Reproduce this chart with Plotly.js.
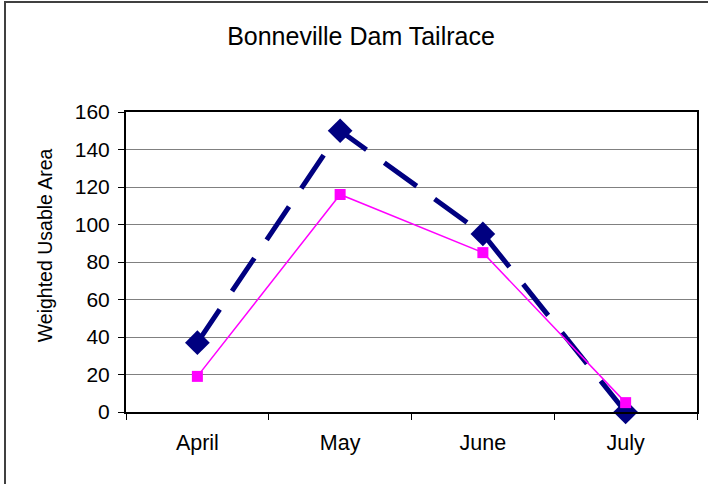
<!DOCTYPE html>
<html>
<head>
<meta charset="utf-8">
<script src="https://cdn.plot.ly/plotly-3.0.1.min.js"></script>
<style>
  html, body { margin: 0; padding: 0; background: #fff; overflow: hidden; }
  #wrap { position: relative; width: 708px; height: 484px; }
  #chart { width: 708px; height: 484px; }
  #frame { position: absolute; left: 4px; top: 1px; width: 760px; height: 560px;
           border-left: 2px solid #404040; border-top: 2px solid #404040; pointer-events: none; }
</style>
</head>
<body>
<div id="wrap">
  <div id="chart"></div>
  <div id="frame"></div>
</div>
<script>
// Data
const months = ['April', 'May', 'June', 'July'];
const navySeries = [37, 150, 95, 0];
const magentaSeries = [19, 116, 85, 5];
const yTickValues = [0, 20, 40, 60, 80, 100, 120, 140, 160];

const FONT = 'Liberation Sans, Arial, sans-serif';

const traces = [
  {
    x: months, y: navySeries, type: 'scatter', mode: 'lines+markers',
    line: { color: '#000080', width: 5, dash: '40px,22px' },
    marker: { symbol: 'diamond', size: 19, color: '#000080' },
    cliponaxis: false, hoverinfo: 'skip'
  },
  {
    x: months, y: magentaSeries, type: 'scatter', mode: 'lines+markers',
    line: { color: '#FF00FF', width: 1.5 },
    marker: { symbol: 'square', size: 11, color: '#FF00FF' },
    cliponaxis: false, hoverinfo: 'skip'
  }
];

const layout = {
  width: 708, height: 484,
  margin: { l: 126, r: 11, t: 112, b: 72, pad: 0 },
  paper_bgcolor: '#ffffff', plot_bgcolor: '#ffffff',
  showlegend: false,
  font: { family: FONT, color: '#000', size: 21 },
  title: {
    text: 'Bonneville Dam Tailrace',
    font: { family: FONT, size: 25, color: '#000' },
    x: 361 / 708, xanchor: 'center', xref: 'container',
    y: 1 - 36 / 484, yanchor: 'middle', yref: 'container'
  },
  xaxis: {
    type: 'category', range: [-0.5, 3.5],
    showgrid: false, zeroline: false,
    showline: true, linecolor: '#000', linewidth: 2, mirror: true,
    ticks: 'outside', tickson: 'boundaries', ticklen: 6, tickcolor: '#000', tickwidth: 1,
    tickfont: { family: FONT, size: 21.5, color: '#000' },
    ticklabelstandoff: 10
  },
  yaxis: {
    range: [0, 160], tickvals: yTickValues,
    showgrid: true, gridcolor: '#808080', gridwidth: 1,
    zeroline: false,
    showline: true, linecolor: '#000', linewidth: 2, mirror: true,
    ticks: 'outside', ticklen: 6, tickcolor: '#000', tickwidth: 1,
    tickfont: { family: FONT, size: 21, color: '#000' },
    ticklabelstandoff: 4
  },
  annotations: [
    {
      text: 'Weighted Usable Area', textangle: -90,
      xref: 'paper', yref: 'paper',
      x: -0.142, y: (411.7 - 245) / 300, xanchor: 'center', yanchor: 'middle',
      showarrow: false, font: { family: FONT, size: 19.5, color: '#000' }
    }
  ]
};

Plotly.newPlot('chart', traces, layout, { displayModeBar: false, staticPlot: true });
</script>
</body>
</html>
